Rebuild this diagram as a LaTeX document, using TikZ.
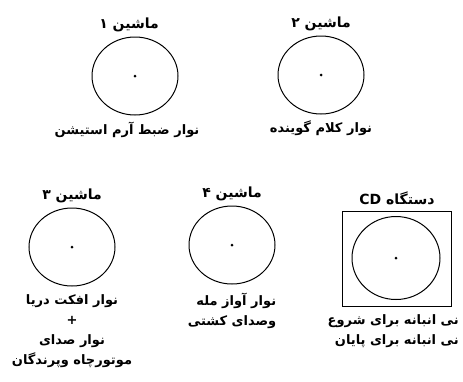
\documentclass[tikz,border=0pt]{standalone}
\usepackage{fontspec}
\newfontfamily\arabicfont[Script=Arabic]{DejaVu Sans Bold}
\TeXXeTstate=1
\usetikzlibrary{positioning, shapes.geometric}

\begin{document}
\begin{tikzpicture}[x=1pt, y=-1pt,
  font=\arabicfont\fontsize{13}{20}\selectfont,
  disk/.style={draw, line width=1pt, ellipse, minimum width=86pt, minimum height=78pt, inner sep=0pt},
  hub/.style={fill, circle, inner sep=0pt, minimum size=3pt},
  title/.style={above=1pt of #1, font=\arabicfont\fontsize{14}{16}\selectfont},
  caption/.style={below=5pt of #1, align=center}]
  \useasboundingbox (0,0) rectangle (463,381);

  % top row
  \node[disk] (m1) at (135,76) {};
  \node[hub] (h1) at (m1.center) {};
  \node[title=m1, xshift=-6pt] (t1) {\beginR ماشین ۱\endR};
  \node[caption=m1, xshift=-8pt, yshift=2pt] (c1) {\beginR نوار ضبط آرم استیشن\endR};

  \node[disk] (m2) at (321,75) {};
  \node[hub] (h2) at (m2.center) {};
  \node[title=m2] (t2) {\beginR ماشین ۲\endR};
  \node[caption=m2, yshift=2pt] (c2) {\beginR نوار کلام گوینده\endR};

  % bottom row
  \node[disk] (m3) at (72,247) {};
  \node[hub] (h3) at (m3.center) {};
  \node[title=m3] (t3) {\beginR ماشین ۳\endR};
  \node[caption=m3] (c3) {\beginR نوار افکت دریا\endR\\+\\\beginR نوار صدای\endR\\\beginR موتورچاه وپرندگان\endR};

  \node[disk] (m4) at (232,245) {};
  \node[hub] (h4) at (m4.center) {};
  \node[title=m4] (t4) {\beginR ماشین ۴\endR};
  \node[caption=m4, align=right] (c4) {\beginR نوار آواز مله\endR\\\beginR وصدای کشتی\endR};

  % CD player
  \node[draw, line width=1pt, minimum width=109pt, minimum height=95pt] (cdbox) at (397,259) {};
  \node[disk, minimum width=88pt, minimum height=83pt] (cd) at (396,258) {};
  \node[hub] (h5) at (cd.center) {};
  \node[title=cdbox, yshift=2pt] (t5) {\beginR دستگاه \beginL CD\endL\endR};
  \node[anchor=north east, align=right, inner sep=0pt] (c5) at (459,314) {\beginR نی انبانه برای شروع\endR\\\beginR نی انبانه برای پایان\endR};
\end{tikzpicture}
\end{document}
